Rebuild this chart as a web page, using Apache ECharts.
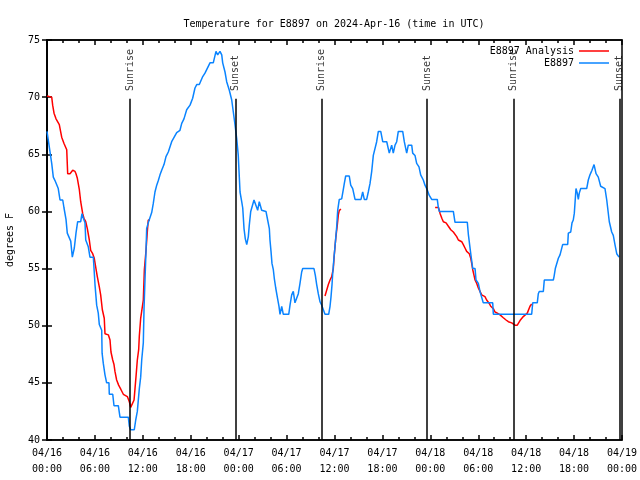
<!DOCTYPE html>
<html>
<head>
<meta charset="utf-8">
<script src="https://cdn.jsdelivr.net/npm/echarts@6/dist/echarts.min.js"></script>
<style>html,body{margin:0;padding:0;background:#fff}#c{width:640px;height:480px}</style>
</head>
<body>
<div id="c"></div>
<script>
// hours since 2024-04-16 00:00 UTC, temperature in degrees F
var observed = [
[0,67.0],[0.16,67.0],[0.59,64.2],[0.79,63.0],[1.0,62.7],[1.41,62.0],[1.63,61.0],[1.97,61.0],[2.13,60.3],[2.38,59.3],
[2.54,58.1],[2.79,58.1],[2.97,57.4],[3.17,56.0],[3.42,56.8],[3.63,58.1],[3.84,59.1],[4.22,59.1],[4.38,59.8],[4.55,59.4],
[4.76,59.0],[4.85,57.5],[5.17,56.9],[5.38,56.0],[5.8,56.0],[5.89,55.0],[6.01,53.6],[6.22,51.8],[6.42,51.1],[6.55,50.1],
[6.85,49.6],[6.9,47.6],[7.05,46.7],[7.26,45.7],[7.47,45.0],[7.76,45.0],[7.8,44.0],[8.23,44.0],[8.39,43.0],[8.93,43.0],
[9.14,42.0],[10.18,42.0],[10.31,41.2],[10.48,40.9],[10.93,40.9],[11.11,41.75],[11.31,42.5],[11.56,44.5],[11.73,45.5],[11.86,47.0],
[12.06,48.5],[12.15,51.5],[12.27,54.0],[12.4,56.6],[12.48,58.5],[12.68,59.0],[12.9,59.0],[13.11,59.9],[13.31,60.7],[13.52,61.7],
[13.74,62.3],[13.94,62.7],[14.15,63.2],[14.36,63.6],[14.65,64.1],[14.9,64.8],[15.19,65.2],[15.61,66.1],[15.82,66.1],[16.24,66.9],
[16.65,67.1],[16.87,67.7],[17.15,68.1],[17.49,68.9],[17.91,69.3],[18.24,69.9],[18.53,70.8],[18.75,71.1],[19.07,71.1],[19.5,71.8],
[19.78,72.1],[20.41,73.0],[20.82,73.0],[21.16,74.0],[21.37,73.7],[21.66,74.0],[21.88,73.7],[22.0,73.0],[22.29,72.2],[22.5,71.35],
[22.83,70.6],[23.13,69.75],[23.33,68.7],[23.54,67.6],[23.75,66.4],[23.95,64.9],[24.08,63.0],[24.17,61.7],[24.38,60.85],[24.51,60.3],
[24.67,58.5],[24.83,57.6],[25.01,57.1],[25.21,57.8],[25.33,58.8],[25.51,60.0],[25.71,60.0],[25.92,61.0],[26.17,61.0],[26.38,60.1],
[26.58,60.85],[26.88,60.1],[27.42,60.0],[27.63,59.25],[27.84,58.5],[27.92,57.5],[28.05,56.5],[28.17,55.45],[28.34,54.9],[28.46,54.15],
[28.64,53.3],[28.84,52.5],[29.05,51.7],[29.18,51.0],[29.39,51.7],[29.59,51.0],[30.27,51.0],[30.43,51.8],[30.64,52.7],[30.84,53.0],
[31.05,52.0],[31.27,52.0],[31.47,52.8],[31.68,53.7],[31.89,54.7],[32.02,55.0],[33.43,55.0],[33.6,54.4],[33.77,53.6],[33.97,52.8],
[34.18,52.1],[34.4,51.8],[34.6,51.7],[34.81,51.0],[35.27,51.0],[35.44,51.7],[35.56,52.5],[35.69,53.6],[35.77,54.5],[35.94,56.0],
[36.06,56.9],[36.28,58.7],[36.4,60.1],[36.6,61.05],[36.9,61.1],[37.1,61.9],[37.23,62.45],[37.4,63.1],[37.85,63.1],[38.03,62.3],
[38.28,62.0],[38.57,61.05],[39.32,61.05],[39.53,61.7],[39.73,61.05],[40.03,61.05],[40.23,61.7],[40.45,62.45],[40.66,63.5],[40.86,64.9],
[41.28,66.1],[41.49,67.0],[41.79,67.0],[42.04,66.1],[42.54,66.1],[42.86,65.1],[43.16,65.8],[43.36,65.1],[43.58,65.8],[43.79,66.1],
[43.99,67.0],[44.54,67.0],[44.74,66.1],[45.04,65.1],[45.24,65.8],[45.67,65.8],[45.79,65.1],[46.08,64.9],[46.29,64.2],[46.58,63.9],
[46.79,63.2],[47.12,62.75],[47.33,62.3],[47.55,62.0],[47.87,61.4],[48.17,61.05],[48.87,61.05],[48.99,60.4],[49.12,60.0],[50.88,60.0],
[51.09,59.05],[52.63,59.05],[52.76,58.0],[52.98,58.0],[53.06,56.3],[53.31,55.0],[53.6,55.0],[53.72,54.0],[54.01,53.7],[54.22,53.0],
[54.43,53.0],[54.63,52.0],[55.81,52.0],[55.89,51.0],[60.69,51.0],[60.82,52.0],[61.39,52.0],[61.52,52.8],[61.64,53.0],[62.15,53.0],
[62.27,54.0],[63.4,54.0],[63.49,54.3],[63.65,55.0],[63.8,55.0],[64.03,55.9],[64.24,56.2],[64.57,57.1],[65.2,57.1],[65.28,58.1],
[65.58,58.2],[65.74,59.0],[65.9,59.25],[66.03,59.85],[66.24,62.0],[66.4,61.6],[66.53,61.05],[66.65,61.6],[66.83,62.0],[67.58,62.0],
[67.78,62.75],[67.99,63.2],[68.24,63.6],[68.5,64.1],[68.75,63.3],[69.03,63.0],[69.33,62.2],[69.87,62.0],[70.09,61.0],[70.41,59.1],
[70.71,58.2],[70.91,57.9],[71.12,57.1],[71.34,56.3],[71.63,56.0]
];
var analysisSeg1 = [
[0,70.1],[0.59,70.0],[0.71,69.3],[0.88,68.6],[1.13,68.1],[1.54,67.6],[1.84,66.5],[2.13,65.95],[2.47,65.4],[2.59,63.3],
[2.88,63.3],[3.22,63.6],[3.51,63.5],[3.63,63.3],[3.8,62.9],[4.05,61.9],[4.22,60.85],[4.47,59.8],[4.63,59.4],[4.85,59.1],
[5.05,58.5],[5.3,57.5],[5.47,56.6],[5.72,56.3],[5.92,55.9],[6.13,55.0],[6.3,54.3],[6.55,53.4],[6.72,52.7],[6.93,51.4],
[7.17,50.65],[7.26,49.3],[7.68,49.2],[7.89,48.75],[8.01,47.7],[8.23,47.0],[8.39,46.6],[8.51,46.0],[8.72,45.25],[8.97,44.8],
[9.27,44.4],[9.56,44.0],[9.81,44.1],[10.06,43.8],[10.31,43.35],[10.48,42.85],[10.73,42.85],[10.9,43.5],[11.02,44.5],[11.14,45.5],
[11.31,47.0],[11.48,47.9],[11.56,49.1],[11.73,50.65],[11.94,50.5],[12.06,52.25],[12.19,54.9],[12.4,56.6],[12.56,58.2],[12.68,59.25],
[12.9,59.25]
];
var analysisSeg2 = [
[34.81,52.6],[35.02,53.1],[35.23,53.6],[35.44,54.0],[35.65,54.3],[35.85,55.0],[35.94,55.9],[36.06,56.9],[36.18,57.8],[36.35,58.8],
[36.48,59.7],[36.6,60.1],[36.81,60.2]
];
var analysisSeg3 = [
[48.6,60.35],[49.02,60.35],[49.23,59.8],[49.44,59.4],[49.63,59.1],[49.97,59.0],[50.26,58.7],[50.56,58.4],[50.88,58.2],[51.3,57.8],
[51.51,57.5],[51.93,57.35],[52.13,57.1],[52.34,56.8],[52.55,56.5],[52.88,56.3],[53.06,55.9],[53.18,55.45],[53.31,54.9],[53.47,54.4],
[53.6,54.0],[53.81,53.7],[54.01,53.3],[54.22,53.0],[54.43,52.7],[54.84,52.55],[55.05,52.25],[55.38,51.95],[55.56,51.7],[55.89,51.5],
[56.1,51.2],[56.39,51.1],[56.73,50.95],[57.14,50.7],[57.48,50.5],[57.77,50.35],[58.19,50.25],[58.6,50.05],[58.89,50.05],[59.23,50.45],
[59.64,50.8],[60.14,51.1],[60.48,51.7],[60.69,51.9]
];
var sunTimes = [10.42, 23.58, 34.35, 47.58, 58.39, 71.71];
var sunLabels = ['Sunrise', 'Sunset', 'Sunrise', 'Sunset', 'Sunrise', 'Sunset'];
var sunLineTop = 69.85;   // in degrees F, where the marker line stops
var sunLabelBase = 70.45; // in degrees F, where the label starts
var seriesNames = ['E8897 Analysis', 'E8897'];
var yTicks = [40, 45, 50, 55, 60, 65, 70, 75];

var FONT = 'DejaVu Sans Mono';
var BLUE = '#0a84ff', RED = '#ff0000';

function pad(n){ return (n < 10 ? '0' : '') + n; }
function xLabel(h){
  var d = Math.floor(h / 24), hh = Math.round(h - d * 24);
  return '04/' + pad(16 + d) + '\n' + pad(hh) + ':00';
}

var sunLineData = sunTimes.map(function(t){
  return [{coord: [t, 40]}, {coord: [t, sunLineTop]}];
});
var sunLabelData = sunTimes.map(function(t, i){
  return {value: [t, sunLabelBase], name: sunLabels[i]};
});

function redSeries(d){
  return {name: seriesNames[0], type: 'line', data: d, symbol: 'none', showSymbol: false,
    lineStyle: {color: RED, width: 1.5}, itemStyle: {color: RED}, animation: false, z: 2};
}

var chart = echarts.init(document.getElementById('c'), null, {renderer: 'canvas'});
chart.setOption({
  animation: false,
  backgroundColor: '#fff',
  title: {
    text: 'Temperature for E8897 on 2024-Apr-16 (time in UTC)',
    left: 329, textAlign: 'center', top: 14,
    textStyle: {fontFamily: FONT, fontSize: 10, fontWeight: 'normal', color: '#000'}
  },
  legend: {
    data: seriesNames.map(function(n){ return {name: n, icon: 'rect'}; }),
    orient: 'vertical', align: 'right', right: 26, top: 40,
    itemWidth: 30, itemHeight: 1.5, itemGap: 0,
    textStyle: {fontFamily: FONT, fontSize: 10, color: '#000', lineHeight: 12}
  },
  grid: {left: 47, right: 18, top: 40, bottom: 40, show: true, borderColor: '#000', borderWidth: 1.5,
    outerBoundsMode: 'none', containLabel: false},
  xAxis: [{
    type: 'value', min: 0, max: 72, interval: 6,
    axisLine: {show: true, lineStyle: {color: '#000', width: 1.5}},
    axisTick: {show: true, inside: true, length: 5, lineStyle: {color: '#000', width: 1.5}},
    minorTick: {show: true, splitNumber: 3, length: 3, lineStyle: {color: '#000', width: 1.5}},
    splitLine: {show: false},
    axisLabel: {formatter: xLabel, fontFamily: FONT, fontSize: 10, color: '#000', lineHeight: 16, margin: 5}
  }, {
    type: 'value', min: 0, max: 72, interval: 6, position: 'top',
    axisLine: {show: true, lineStyle: {color: '#000', width: 1.5}},
    axisTick: {show: true, inside: true, length: 5, lineStyle: {color: '#000', width: 1.5}},
    minorTick: {show: true, splitNumber: 3, length: 3, lineStyle: {color: '#000', width: 1.5}},
    splitLine: {show: false}, axisLabel: {show: false}
  }],
  yAxis: [{
    type: 'value', min: yTicks[0], max: yTicks[yTicks.length - 1], interval: 5,
    name: 'degrees F', nameLocation: 'middle', nameGap: 32, nameRotate: 90,
    nameTextStyle: {fontFamily: FONT, fontSize: 10, color: '#000'},
    axisLine: {show: true, lineStyle: {color: '#000', width: 1.5}},
    axisTick: {show: true, inside: true, length: 5, lineStyle: {color: '#000', width: 1.5}},
    splitLine: {show: false},
    axisLabel: {fontFamily: FONT, fontSize: 10, color: '#000', margin: 7}
  }, {
    type: 'value', min: yTicks[0], max: yTicks[yTicks.length - 1], interval: 5, position: 'right',
    axisLine: {show: true, lineStyle: {color: '#000', width: 1.5}},
    axisTick: {show: true, inside: true, length: 5, lineStyle: {color: '#000', width: 1.5}},
    splitLine: {show: false}, axisLabel: {show: false}
  }],
  series: [
    redSeries(analysisSeg1),
    redSeries(analysisSeg2),
    redSeries(analysisSeg3),
    {
      name: seriesNames[1], type: 'line', data: observed, symbol: 'none', showSymbol: false,
      lineStyle: {color: BLUE, width: 1.5}, itemStyle: {color: BLUE}, z: 3,
      markLine: {
        silent: true, symbol: ['none', 'none'], animation: false,
        label: {show: false},
        lineStyle: {color: '#000', width: 1.5, type: 'solid'},
        data: sunLineData
      }
    },
    {
      name: 'sun', type: 'scatter', data: sunLabelData, symbolSize: 0, silent: true,
      label: {show: true, position: 'inside', rotate: 90, align: 'left', verticalAlign: 'middle',
        formatter: function(p){ return p.name; },
        fontFamily: FONT, fontSize: 10, color: '#000', textBorderWidth: 0, offset: [1, 0]}
    }
  ]
});
</script>
</body>
</html>
